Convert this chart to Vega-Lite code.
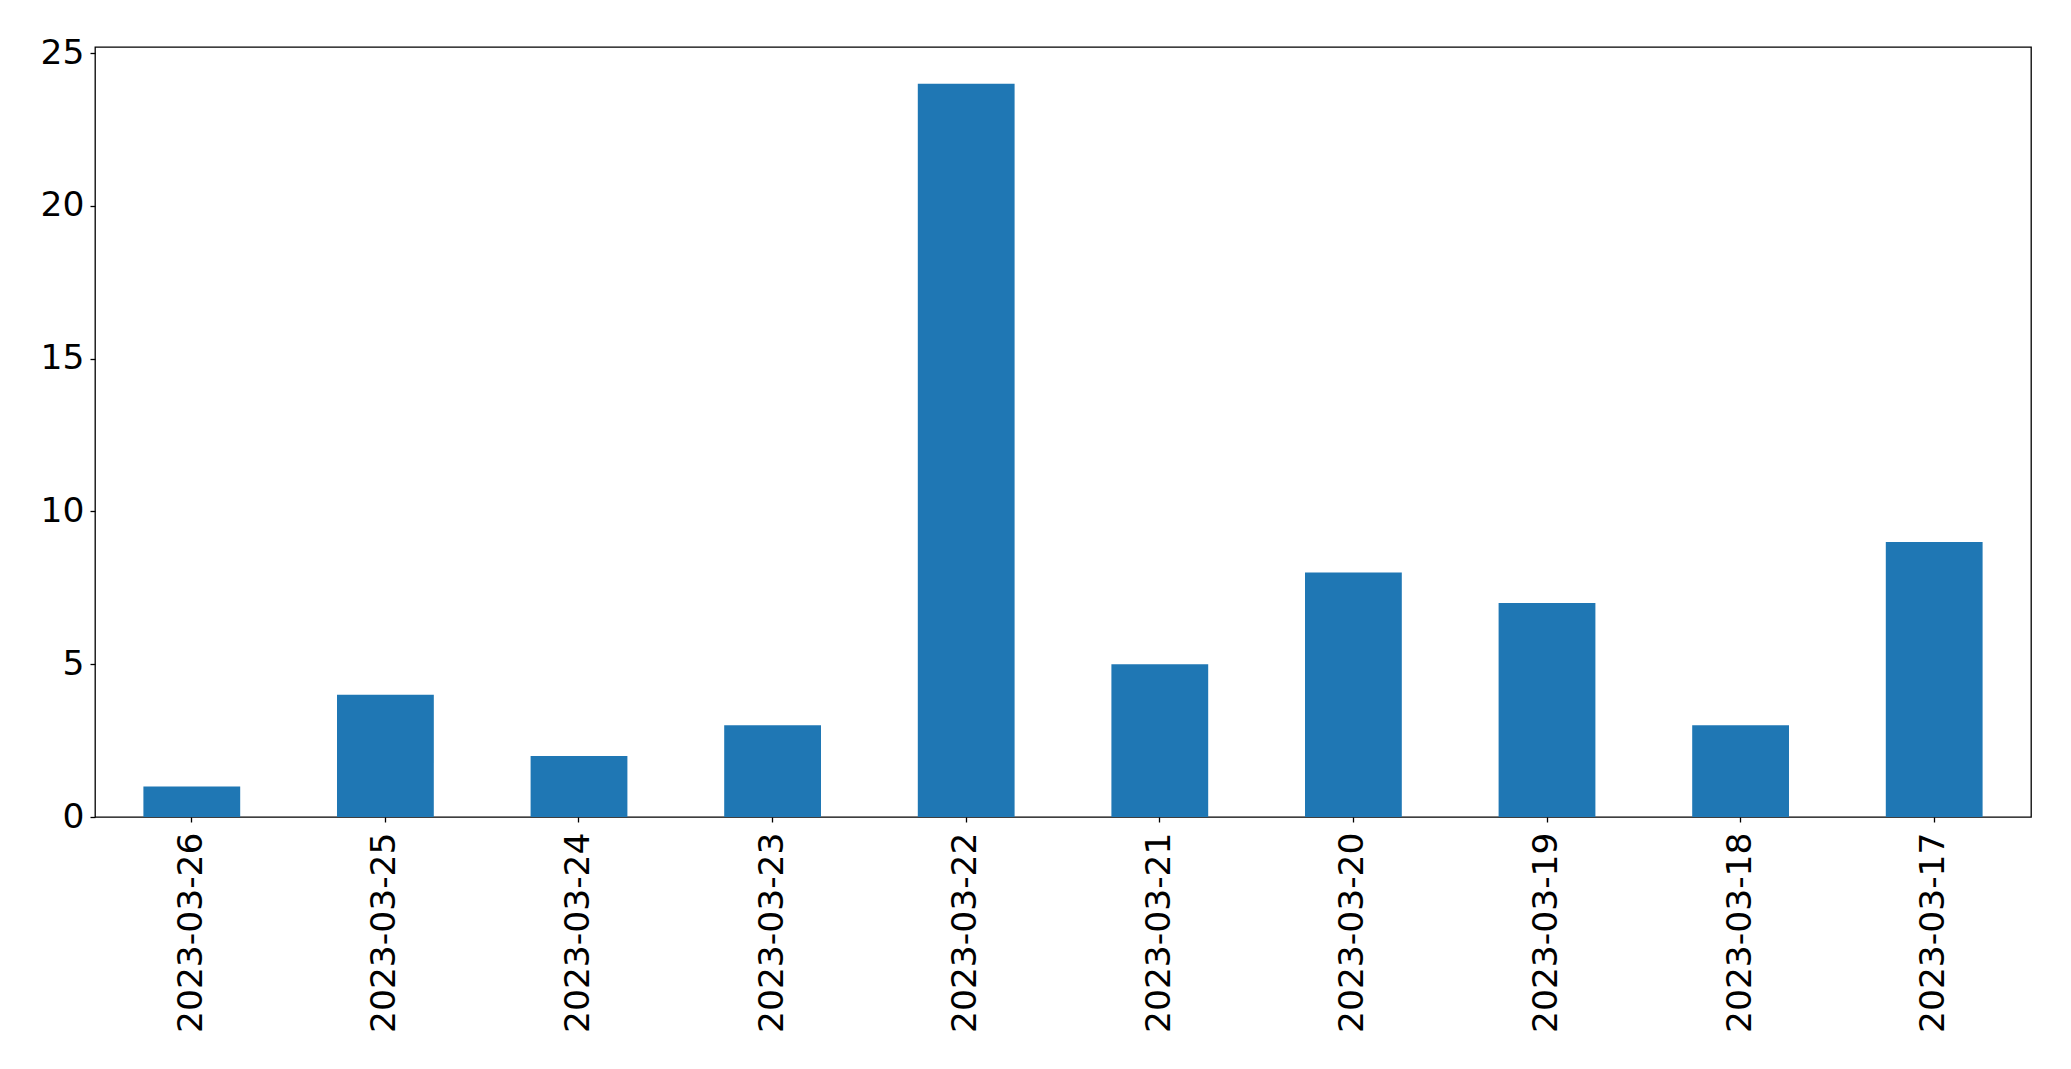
{
  "$schema": "https://vega.github.io/schema/vega-lite/v6.json",
  "autosize": {"type": "none"},
  "padding": {"left": 95, "top": 47, "right": 40, "bottom": 252},
  "width": 1936,
  "height": 770,
  "background": "white",
  "data": {"values": [
    {"date": "2023-03-26", "count": 1},
    {"date": "2023-03-25", "count": 4},
    {"date": "2023-03-24", "count": 2},
    {"date": "2023-03-23", "count": 3},
    {"date": "2023-03-22", "count": 24},
    {"date": "2023-03-21", "count": 5},
    {"date": "2023-03-20", "count": 8},
    {"date": "2023-03-19", "count": 7},
    {"date": "2023-03-18", "count": 3},
    {"date": "2023-03-17", "count": 9}
  ]},
  "mark": {"type": "bar", "color": "#1f77b4"},
  "encoding": {
    "x": {
      "field": "date", "type": "nominal", "sort": null,
      "scale": {"paddingInner": 0.5, "paddingOuter": 0.25},
      "axis": {"title": null, "labelAngle": -90, "labelFontSize": 34.5, "labelFont": "DejaVu Sans", "labelColor": "black", "labelLimit": 0,
               "tickColor": "black", "tickSize": 5, "tickWidth": 1.3, "labelPadding": 10, "domain": false, "labelBaseline": "middle", "labelAlign": "right"}
    },
    "y": {
      "field": "count", "type": "quantitative",
      "scale": {"domain": [0, 25.2], "nice": false},
      "axis": {"title": null, "values": [0, 5, 10, 15, 20, 25], "grid": false, "labelFontSize": 34.5, "labelFont": "DejaVu Sans", "labelColor": "black",
               "tickColor": "black", "tickSize": 5, "tickWidth": 1.3, "labelPadding": 6, "domain": false}
    }
  },
  "config": {"view": {"stroke": "black", "strokeWidth": 1.3}}
}
